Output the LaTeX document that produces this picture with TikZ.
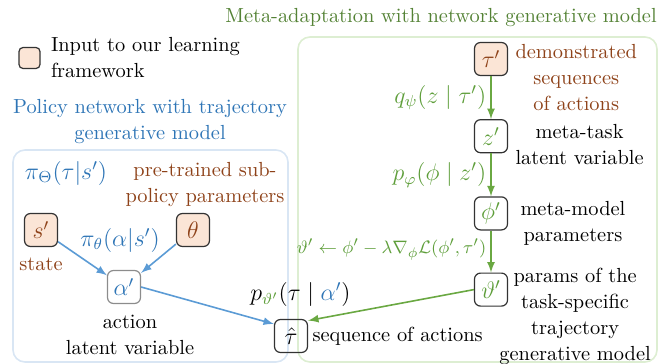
\documentclass[tikz,border=0pt]{standalone}
\usepackage{amsmath}
\usepackage{amssymb}
\usetikzlibrary{positioning,calc,arrows}

\definecolor{polblue}{HTML}{2E75B6}
\definecolor{arrblue}{HTML}{5B9BD5}
\definecolor{metagreen}{HTML}{548235}
\definecolor{arrgreen}{HTML}{6AA842}
\definecolor{lblgreen}{HTML}{5E9E3A}
\definecolor{inbrown}{HTML}{8E4219}
\definecolor{infill}{HTML}{FBE5D6}
\definecolor{boxblue}{HTML}{D9E6F4}
\definecolor{boxgreen}{HTML}{DDEED2}

\begin{document}
\begin{tikzpicture}[x=1pt, y=1pt, font=\fontsize{10.2}{13}\selectfont,
  var/.style={draw=black!80, rounded corners=3pt, minimum size=16.5pt, inner sep=0pt, line width=0.6pt, font=\fontsize{11.5}{13}\selectfont},
  input/.style={var, fill=infill, text=inbrown},
  lbl/.style={align=center, inner sep=0pt},
  mathlbl/.style={inner sep=0pt, font=\fontsize{11.5}{13}\selectfont},
  edgelbl/.style={inner sep=0pt, font=\fontsize{12}{14}\selectfont},
  bluearrow/.style={->, >=latex, draw=arrblue, line width=0.8pt},
  greenarrow/.style={->, >=latex, draw=arrgreen, line width=0.8pt},
  policybox/.style={draw=boxblue, rounded corners=6pt, line width=0.8pt},
  metabox/.style={draw=boxgreen, rounded corners=6pt, line width=0.8pt}
  ]
  \useasboundingbox (0,0) rectangle (332,-182);

  % containers
  \draw[policybox] (6.5,-75) rectangle (144,-181);
  \draw[metabox] (149,-18.5) rectangle (328.5,-181);

  % titles and legend
  \node[lbl, text=metagreen] (metatitle) at (220.5,-9) {Meta-adaptation with network generative model};
  \node[lbl, text=polblue] (poltitle) at (75,-60.75) {Policy network with trajectory\\generative model};
  \node[input, minimum size=10.5pt, rounded corners=2pt] (legend) at (14.75,-29) {};
  \node[lbl, align=left, right=5pt of legend] (legendtext) {Input to our learning\\framework};

  % meta-adaptation chain
  \node[input] (taup) at (245.5,-29.5) {$\tau'$};
  \node[var, text=lblgreen, below=21.5pt of taup] (zp) {$z'$};
  \node[var, text=lblgreen, below=21.5pt of zp] (phip) {$\phi'$};
  \node[var, text=lblgreen, below=21pt of phip] (varthetap) {$\vartheta'$};

  \node[lbl, text=inbrown, anchor=north west] (demolabel) at ($(taup.north east)+(3.5pt,-1pt)$) {demonstrated\\sequences\\of actions};
  \node[lbl, anchor=north west] (zlabel) at ($(zp.north east)+(3.5pt,-2.5pt)$) {meta-task\\latent variable};
  \node[lbl, anchor=north west] (philabel) at ($(phip.north east)+(6pt,-2.5pt)$) {meta-model\\parameters};
  \node[lbl, anchor=north] (varthetalabel) at ($(varthetap.north east)+(33.5pt,2.5pt)$) {params of the\\task-specific\\trajectory\\generative model};

  % policy network
  \node[input] (sp) at (20.5,-115) {$s'$};
  \node[input] (theta) at (96.5,-115) {$\theta$};
  \node[var, draw=black!45, text=polblue] (alphap) at (62,-143.5) {$\alpha'$};
  \node[var] (tauhat) at (145.5,-168) {$\hat{\tau}$};

  \node[lbl, text=inbrown, below=5pt of sp] (splabel) {state};
  \node[lbl, text=inbrown, above=3pt of theta, xshift=6pt] (thetalabel) {pre-trained sub-\\policy parameters};
  \node[lbl, below=5.5pt of alphap, xshift=3pt] (alphalabel) {action\\latent variable};
  \node[lbl, right=2pt of tauhat] (tauhatlabel) {sequence of actions};

  \node[mathlbl, text=polblue] (pibig) at (33,-86.5) {$\pi_{\Theta}(\tau|s')$};
  \node[mathlbl, text=polblue] (pismall) at (60,-120) {$\pi_{\theta}(\alpha|s')$};
  \node[edgelbl, above=6pt of tauhat, xshift=4.75pt] (plabel) {$p_{\color{lblgreen}\vartheta'}(\tau \mid {\color{polblue}\alpha'})$};

  % connectors
  \draw[bluearrow] (sp) -- (alphap);
  \draw[bluearrow] (theta) -- (alphap);
  \draw[bluearrow] (alphap.east) -- (tauhat.145);
  \draw[greenarrow] (varthetap.west) -- (tauhat.42);
  \draw[greenarrow] (taup) -- node[edgelbl, left=2pt, text=lblgreen] {$q_{\psi}(z \mid \tau')$} (zp);
  \draw[greenarrow] (zp) -- node[edgelbl, left=2pt, text=lblgreen] {$p_{\varphi}(\phi \mid z')$} (phip);
  \draw[greenarrow] (phip) -- node[edgelbl, left=2pt, pos=0.45, text=lblgreen, font=\fontsize{9.5}{11}\selectfont] {$\vartheta' \leftarrow \phi' - \lambda\nabla_{\phi}\mathcal{L}(\phi',\tau')$} (varthetap);

\end{tikzpicture}
\end{document}
